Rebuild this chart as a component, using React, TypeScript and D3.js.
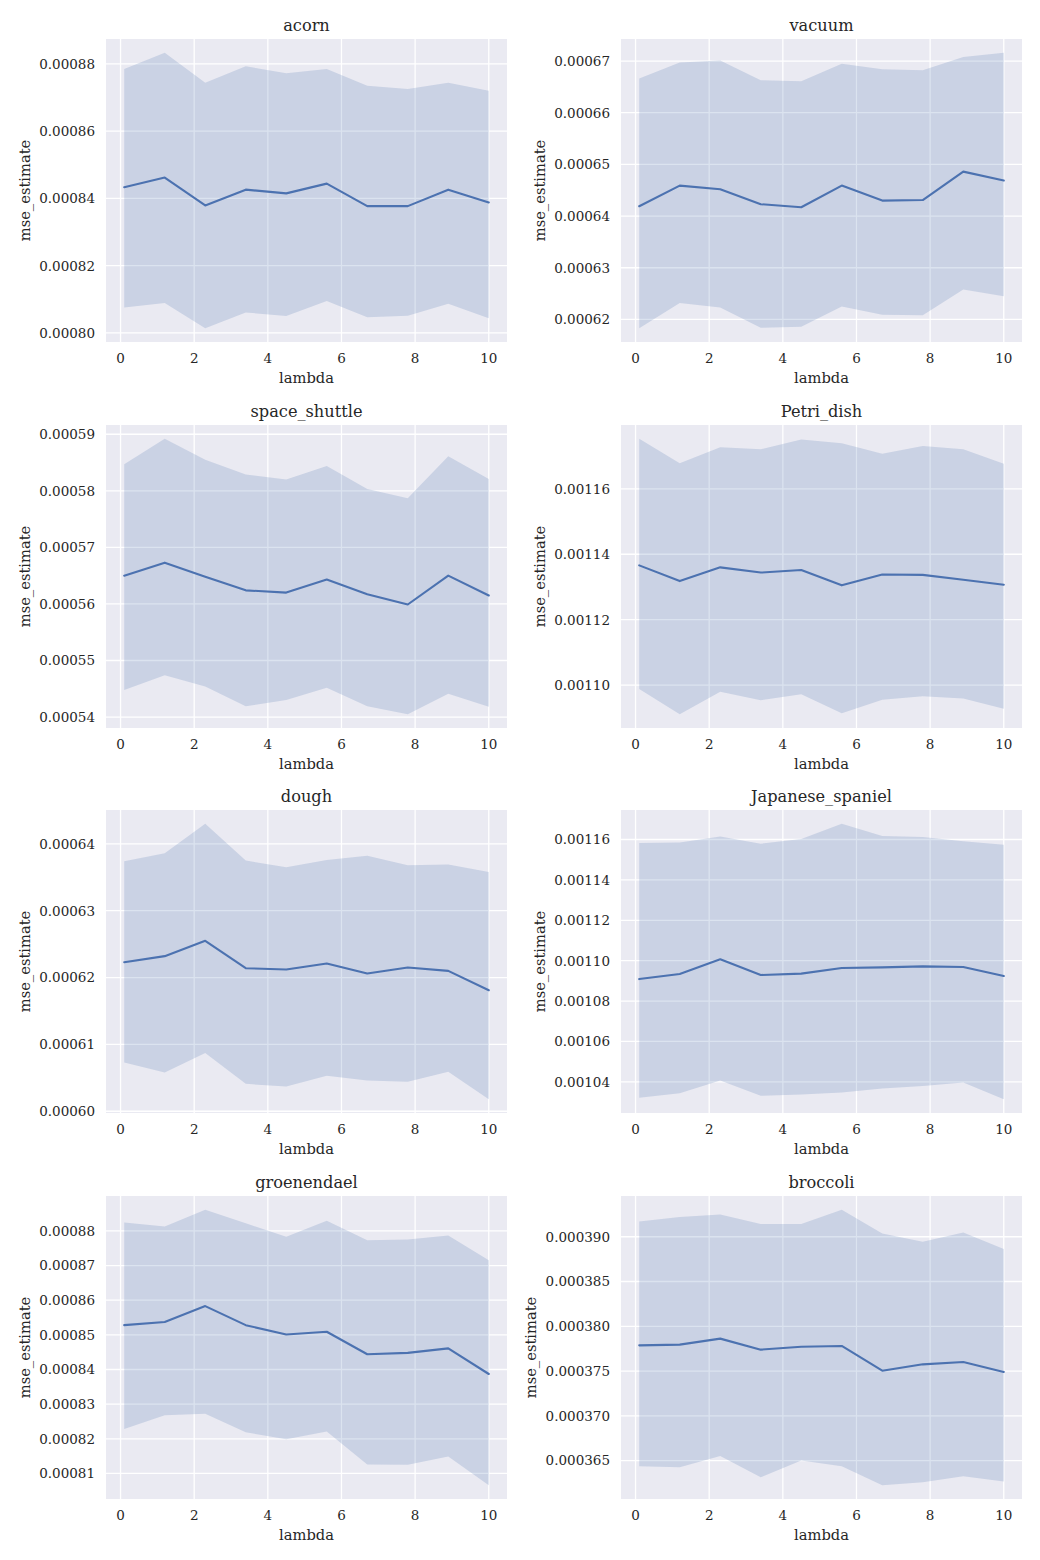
import { useLayoutEffect, useRef } from 'react'
import * as d3 from 'd3'

const lambdas = [0.1, 1.2, 2.3, 3.4, 4.5, 5.6, 6.7, 7.8, 8.9, 10]
const xTicks = [0, 2, 4, 6, 8, 10]

const acornMean = [0.0008433, 0.0008462, 0.0008379, 0.0008426, 0.0008415, 0.0008444, 0.0008377, 0.0008377, 0.0008426, 0.0008388]
const acornUpper = [0.0008785, 0.0008833, 0.0008744, 0.0008793, 0.0008772, 0.0008785, 0.0008735, 0.0008725, 0.0008744, 0.000872]
const acornLower = [0.0008076, 0.0008089, 0.0008014, 0.0008061, 0.000805, 0.0008095, 0.0008047, 0.0008051, 0.0008087, 0.0008044]
const acornTicks = [0.0008, 0.00082, 0.00084, 0.00086, 0.00088]

const vacuumMean = [0.0006419, 0.0006459, 0.0006452, 0.0006423, 0.0006417, 0.0006459, 0.000643, 0.0006431, 0.0006486, 0.0006469]
const vacuumUpper = [0.0006666, 0.0006697, 0.0006701, 0.0006663, 0.0006661, 0.0006695, 0.0006684, 0.0006682, 0.0006708, 0.0006716]
const vacuumLower = [0.0006183, 0.0006232, 0.0006223, 0.0006184, 0.0006186, 0.0006225, 0.0006209, 0.0006208, 0.0006258, 0.0006245]
const vacuumTicks = [0.00062, 0.00063, 0.00064, 0.00065, 0.00066, 0.00067]

const shuttleMean = [0.000565, 0.0005673, 0.0005648, 0.0005624, 0.000562, 0.0005643, 0.0005617, 0.0005599, 0.000565, 0.0005615]
const shuttleUpper = [0.0005847, 0.0005892, 0.0005855, 0.0005829, 0.000582, 0.0005844, 0.0005803, 0.0005787, 0.0005861, 0.0005821]
const shuttleLower = [0.0005448, 0.0005474, 0.0005454, 0.0005419, 0.000543, 0.0005452, 0.0005419, 0.0005405, 0.0005441, 0.0005418]
const shuttleTicks = [0.00054, 0.00055, 0.00056, 0.00057, 0.00058, 0.00059]

const petriMean = [0.0011366, 0.0011318, 0.001136, 0.0011344, 0.0011352, 0.0011305, 0.0011338, 0.0011337, 0.0011322, 0.0011307]
const petriUpper = [0.0011753, 0.0011678, 0.0011727, 0.0011721, 0.0011751, 0.0011739, 0.0011707, 0.0011731, 0.0011721, 0.0011677]
const petriLower = [0.0010988, 0.0010911, 0.001098, 0.0010954, 0.0010972, 0.0010914, 0.0010955, 0.0010966, 0.0010959, 0.0010928]
const petriTicks = [0.0011, 0.00112, 0.00114, 0.00116]

const doughMean = [0.0006223, 0.0006232, 0.0006255, 0.0006214, 0.0006212, 0.0006221, 0.0006206, 0.0006215, 0.000621, 0.0006181]
const doughUpper = [0.0006374, 0.0006386, 0.000643, 0.0006375, 0.0006365, 0.0006376, 0.0006382, 0.0006368, 0.0006369, 0.0006358]
const doughLower = [0.0006073, 0.0006058, 0.0006087, 0.0006041, 0.0006037, 0.0006053, 0.0006046, 0.0006044, 0.0006059, 0.0006018]
const doughTicks = [0.0006, 0.00061, 0.00062, 0.00063, 0.00064]

const spanielMean = [0.0010909, 0.0010934, 0.0011007, 0.0010929, 0.0010936, 0.0010964, 0.0010967, 0.0010972, 0.0010969, 0.0010924]
const spanielUpper = [0.0011583, 0.0011585, 0.0011615, 0.0011579, 0.0011602, 0.0011678, 0.0011618, 0.0011612, 0.0011592, 0.0011574]
const spanielLower = [0.0010321, 0.0010344, 0.0010407, 0.0010331, 0.0010337, 0.0010347, 0.0010367, 0.0010379, 0.0010397, 0.0010314]
const spanielTicks = [0.00104, 0.00106, 0.00108, 0.0011, 0.00112, 0.00114, 0.00116]

const groenMean = [0.0008528, 0.0008537, 0.0008583, 0.0008528, 0.0008501, 0.0008509, 0.0008444, 0.0008448, 0.0008461, 0.0008387]
const groenUpper = [0.0008824, 0.0008813, 0.0008861, 0.0008822, 0.0008783, 0.0008829, 0.0008773, 0.0008775, 0.0008787, 0.0008715]
const groenLower = [0.0008228, 0.0008268, 0.0008272, 0.0008219, 0.0008199, 0.0008221, 0.0008126, 0.0008125, 0.0008149, 0.0008066]
const groenTicks = [0.00081, 0.00082, 0.00083, 0.00084, 0.00085, 0.00086, 0.00087, 0.00088]

const broccoliMean = [0.00037787, 0.00037795, 0.00037862, 0.00037739, 0.00037772, 0.0003778, 0.00037504, 0.00037575, 0.00037601, 0.0003749]
const broccoliUpper = [0.00039171, 0.0003922, 0.00039249, 0.00039141, 0.00039141, 0.00039301, 0.00039037, 0.00038944, 0.00039048, 0.00038862]
const broccoliLower = [0.00036437, 0.00036426, 0.00036552, 0.00036314, 0.000365, 0.00036437, 0.00036225, 0.00036258, 0.00036325, 0.00036266]
const broccoliTicks = [0.000365, 0.00037, 0.000375, 0.00038, 0.000385, 0.00039]

const panels = [
  { name: 'acorn', mean: acornMean, upper: acornUpper, lower: acornLower, ticks: acornTicks },
  { name: 'vacuum', mean: vacuumMean, upper: vacuumUpper, lower: vacuumLower, ticks: vacuumTicks },
  { name: 'space_shuttle', mean: shuttleMean, upper: shuttleUpper, lower: shuttleLower, ticks: shuttleTicks },
  { name: 'Petri_dish', mean: petriMean, upper: petriUpper, lower: petriLower, ticks: petriTicks },
  { name: 'dough', mean: doughMean, upper: doughUpper, lower: doughLower, ticks: doughTicks },
  { name: 'Japanese_spaniel', mean: spanielMean, upper: spanielUpper, lower: spanielLower, ticks: spanielTicks },
  { name: 'groenendael', mean: groenMean, upper: groenUpper, lower: groenLower, ticks: groenTicks },
  { name: 'broccoli', mean: broccoliMean, upper: broccoliUpper, lower: broccoliLower, ticks: broccoliTicks }
]

const WIDTH = 1040
const HEIGHT = 1560
const colX = [106, 621]
const rowY = [39, 425, 810, 1196]
const plotW = 401
const plotH = 303

const FONT = '"DejaVu Serif", serif'
const TEXT = '#262626'
const BLUE = '#4C72B0'

const useD3 = (renderChartFn: (svg: any) => void, dependencies: any[]) => {
  const ref = useRef<SVGSVGElement>(null)
  useLayoutEffect(() => {
    const svg = d3.select(ref.current)
    svg.selectAll('*').remove()
    renderChartFn(svg)
  }, dependencies)
  return ref
}

const App = () => {
  const ref = useD3((svg) => {
    svg.append('rect').attr('width', WIDTH).attr('height', HEIGHT).attr('fill', '#fff')

    panels.forEach((p, i) => {
      const g = svg
        .append('g')
        .attr('transform', `translate(${colX[i % 2]}, ${rowY[Math.floor(i / 2)]})`)

      const xExt = d3.extent(lambdas) as [number, number]
      const xPad = (xExt[1] - xExt[0]) * 0.05
      const x = d3.scaleLinear().domain([xExt[0] - xPad, xExt[1] + xPad]).range([0, plotW])

      const yMin = d3.min(p.lower) as number
      const yMax = d3.max(p.upper) as number
      const yPad = (yMax - yMin) * 0.05
      const y = d3.scaleLinear().domain([yMin - yPad, yMax + yPad]).range([plotH, 0])
      const fmt = d3.format(`.${d3.precisionFixed(p.ticks[1] - p.ticks[0])}f`)

      g.append('rect').attr('width', plotW).attr('height', plotH).attr('fill', '#EAEAF2')

      // grid
      g.selectAll('.gx')
        .data(xTicks)
        .enter()
        .append('line')
        .attr('x1', (d) => x(d))
        .attr('x2', (d) => x(d))
        .attr('y1', 0)
        .attr('y2', plotH)
        .attr('stroke', '#fff')
        .attr('stroke-width', 1.3)
      g.selectAll('.gy')
        .data(p.ticks)
        .enter()
        .append('line')
        .attr('x1', 0)
        .attr('x2', plotW)
        .attr('y1', (d) => y(d))
        .attr('y2', (d) => y(d))
        .attr('stroke', '#fff')
        .attr('stroke-width', 1.3)

      const idx = d3.range(lambdas.length)
      const area = d3
        .area<number>()
        .x((k) => x(lambdas[k]))
        .y0((k) => y(p.lower[k]))
        .y1((k) => y(p.upper[k]))
      g.append('path').attr('d', area(idx)).attr('fill', BLUE).attr('fill-opacity', 0.2)

      const line = d3
        .line<number>()
        .x((k) => x(lambdas[k]))
        .y((k) => y(p.mean[k]))
      g.append('path')
        .attr('d', line(idx))
        .attr('fill', 'none')
        .attr('stroke', BLUE)
        .attr('stroke-width', 2.1)
        .attr('stroke-linejoin', 'round')
        .attr('stroke-linecap', 'round')

      // tick labels
      g.selectAll('.xt')
        .data(xTicks)
        .enter()
        .append('text')
        .attr('x', (d) => x(d))
        .attr('y', plotH + 21)
        .attr('text-anchor', 'middle')
        .attr('font-family', FONT)
        .attr('font-size', 13.5)
        .attr('fill', TEXT)
        .text((d) => d)

      const yLabels = g
        .selectAll('.yt')
        .data(p.ticks)
        .enter()
        .append('text')
        .attr('x', -11)
        .attr('y', (d) => y(d))
        .attr('dy', '0.36em')
        .attr('text-anchor', 'end')
        .attr('font-family', FONT)
        .attr('font-size', 13.5)
        .attr('fill', TEXT)
        .text((d) => fmt(d))

      let maxW = 0
      yLabels.each(function () {
        maxW = Math.max(maxW, (this as SVGTextElement).getComputedTextLength())
      })

      g.append('text')
        .attr('transform', `translate(${-11 - maxW - 9.5}, ${plotH / 2}) rotate(-90)`)
        .attr('text-anchor', 'middle')
        .attr('font-family', FONT)
        .attr('font-size', 14.7)
        .attr('fill', TEXT)
        .text('mse_estimate')

      g.append('text')
        .attr('x', plotW / 2)
        .attr('y', plotH + 41)
        .attr('text-anchor', 'middle')
        .attr('font-family', FONT)
        .attr('font-size', 14.7)
        .attr('fill', TEXT)
        .text('lambda')

      g.append('text')
        .attr('x', plotW / 2)
        .attr('y', -8)
        .attr('text-anchor', 'middle')
        .attr('font-family', FONT)
        .attr('font-size', 16.2)
        .attr('fill', TEXT)
        .text(p.name)
    })
  }, [])

  return (
    <svg
      ref={ref}
      width={WIDTH}
      height={HEIGHT}
      style={{ position: 'absolute', left: 0, top: 0, display: 'block' }}
    />
  )
}

export default App
